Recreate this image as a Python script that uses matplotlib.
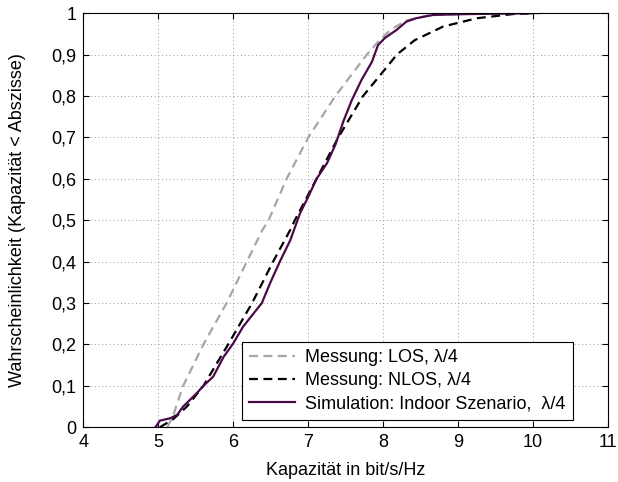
import matplotlib
matplotlib.use("Agg")
import matplotlib.pyplot as plt
from matplotlib.ticker import FixedLocator, FuncFormatter

plt.rcParams['font.family'] = ['Liberation Sans', 'DejaVu Sans']

# LOS measurement (grey dashed)
los_x = [5.12, 5.2, 5.33, 5.6, 5.91, 6.18, 6.39, 6.47, 6.71, 7.0, 7.36, 7.57, 7.78,
         7.95, 8.1, 8.3, 8.6, 9.0, 9.8, 10.1]
los_y = [0.0, 0.03, 0.1, 0.2, 0.3, 0.4, 0.477, 0.5, 0.6, 0.7, 0.8, 0.85, 0.9,
         0.935, 0.96, 0.982, 0.995, 0.998, 1.0, 1.0]

# NLOS measurement (black dashed)
nlos_x = [5.02, 5.2, 5.38, 5.6, 5.93, 6.25, 6.53, 6.76, 6.82, 7.11, 7.4, 7.73,
          8.07, 8.18, 8.42, 8.8, 9.25, 9.73, 10.0]
nlos_y = [0.0, 0.02, 0.05, 0.1, 0.2, 0.3, 0.4, 0.477, 0.5, 0.6, 0.7, 0.8,
          0.875, 0.9, 0.935, 0.968, 0.988, 0.998, 1.0]

# simulation, indoor scenario (purple solid)
sim_x = [4.96, 5.02, 5.16, 5.25, 5.33, 5.42, 5.51, 5.6, 5.73, 5.87, 6.0, 6.13,
         6.27, 6.38, 6.49, 6.62, 6.76, 6.89, 7.0, 7.11, 7.25, 7.36, 7.47, 7.58,
         7.71, 7.85, 7.93, 8.02, 8.18, 8.31, 8.44, 8.67, 9.11, 10.0]
sim_y = [0.0, 0.016, 0.022, 0.03, 0.05, 0.066, 0.082, 0.1, 0.122, 0.17, 0.203,
         0.243, 0.275, 0.3, 0.348, 0.4, 0.452, 0.517, 0.557, 0.6, 0.638, 0.682,
         0.74, 0.79, 0.839, 0.883, 0.923, 0.94, 0.96, 0.98, 0.988, 0.996, 0.998, 1.0]

labels = ['Messung: LOS, λ/4', 'Messung: NLOS, λ/4',
          'Simulation: Indoor Szenario,  λ/4']

fs = 13

fig = plt.figure(figsize=(6.18, 4.82), dpi=100)
ax = fig.add_axes([0.135, 0.1135, 0.849, 0.859])

ax.plot(los_x, los_y, color='#a6a6a6', lw=1.6, dashes=(4, 2.5), label=labels[0])
ax.plot(nlos_x, nlos_y, color='black', lw=1.6, dashes=(4, 2.5), label=labels[1])
ax.plot(sim_x, sim_y, color='#4a0a4a', lw=1.6, label=labels[2])

ax.set_xlim(4, 11)
ax.set_ylim(0, 1)
ax.xaxis.set_major_locator(FixedLocator(range(4, 12)))
ax.yaxis.set_major_locator(FixedLocator([i / 10 for i in range(11)]))
ax.yaxis.set_major_formatter(FuncFormatter(
    lambda v, p: '%g' % round(v, 1) if v in (0, 1) else ('%.1f' % v).replace('.', ',')))
ax.tick_params(direction='in', top=True, right=True, labelsize=fs, length=4, pad=5)
ax.grid(True, linestyle=(0, (1, 3.5)), color='#777777', lw=0.6)

ax.set_xlabel('Kapazität in bit/s/Hz', fontsize=fs, labelpad=8)
ax.set_ylabel('Wahrscheinlichkeit (Kapazität < Abszisse)', fontsize=fs, labelpad=18)

leg = ax.legend(loc='lower right', fontsize=fs, fancybox=False, framealpha=1,
                edgecolor='black', handlelength=2.5, borderpad=0.4,
                labelspacing=0.35, handletextpad=0.6, borderaxespad=0,
                bbox_to_anchor=(0.933, 0.0176))
leg.get_frame().set_linewidth(0.8)

fig.savefig('out.png', dpi=100)
